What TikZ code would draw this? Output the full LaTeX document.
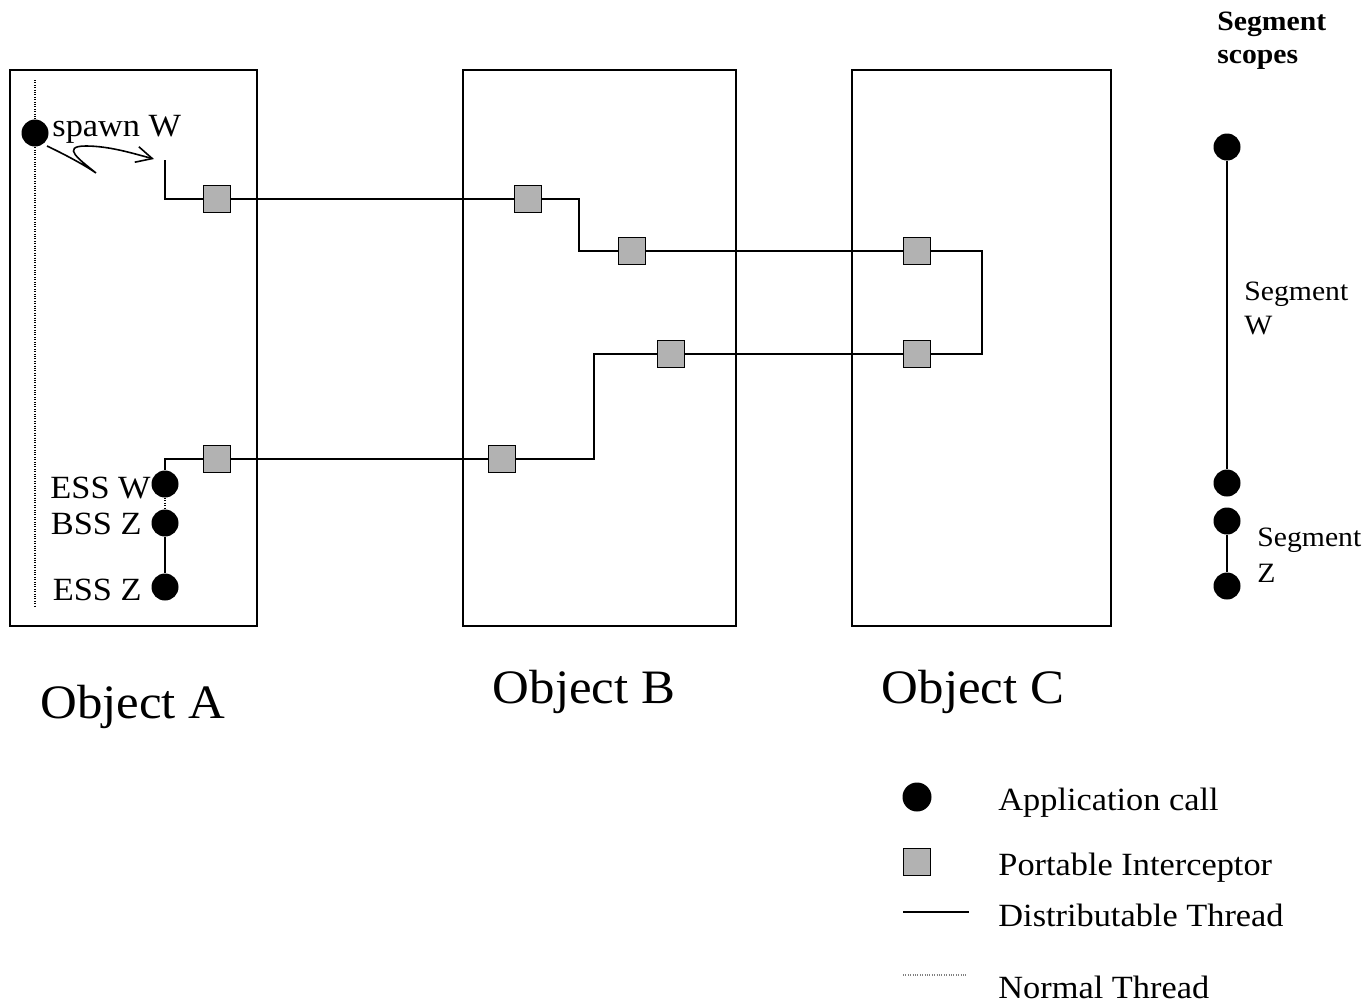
\documentclass[tikz,border=0pt]{standalone}
\usepackage{fontspec}
\setmainfont{Liberation Serif}
\usepackage{graphicx}
\usetikzlibrary{arrows.meta}
\newcommand\hs[1]{\scalebox{1.06}[1]{#1}}
\begin{document}
\begin{tikzpicture}[x=0.5pt,y=-0.5pt,
  objbox/.style={draw,line width=1pt,inner sep=0},
  app/.style={circle,fill=black,inner sep=0,minimum size=13.5pt},
  pint/.style={draw,fill=gray!60,line width=0.7pt,inner sep=0,minimum size=13.5pt},
  thr/.style={line width=0.75pt},
  nthr/.style={line width=0.6pt,dash pattern=on 0.5pt off 0.7pt},
  lbl/.style={inner sep=0,font=\fontsize{16.2pt}{19pt}\selectfont},
  big/.style={inner sep=0,font=\fontsize{24pt}{28pt}\selectfont},
  small/.style={inner sep=0,font=\fontsize{14pt}{16pt}\selectfont},
]
\useasboundingbox (0,0) rectangle (1369,1002);

% object boxes
\node[objbox,minimum width=123.5pt,minimum height=278pt] (boxA) at (133.5,348) {};
\node[objbox,minimum width=136.5pt,minimum height=278pt] (boxB) at (599.5,348) {};
\node[objbox,minimum width=129.5pt,minimum height=278pt] (boxC) at (981.5,348) {};

% normal thread in A
\coordinate (nt1) at (35,80);
\coordinate (nt2) at (35,607);
\draw[nthr] (nt1) -- (nt2);

% spawn
\node[app] (spawn) at (35,133) {};
\node[lbl,anchor=base west] (spawnlbl) at (52,136) {\hs{spawn W}};
\coordinate (sq0) at (47,146);
\coordinate (sqtip) at (154,159);
\draw[line width=0.8pt,-{Straight Barb[length=8pt,width=8pt]}]
  (sq0) .. controls (68,156) and (86,166) .. (96,173)
        .. controls (80,160) and (60,146) .. (86,146)
        .. controls (110,146) and (135,154) .. (sqtip);

% interceptors
\node[pint] (a1) at (217,199) {};
\node[pint] (b1) at (528,199) {};
\node[pint] (b2) at (632,251) {};
\node[pint] (c1) at (917,251) {};
\node[pint] (c2) at (917,354) {};
\node[pint] (b3) at (671,354) {};
\node[pint] (b4) at (502,459) {};
\node[pint] (a2) at (217,459) {};

% application calls in A
\node[app] (essw) at (165,484) {};
\node[app] (bssz) at (165,523) {};
\node[app] (essz) at (165,587) {};
\node[lbl,anchor=base east] (esswl) at (151,498) {\hs{ESS W}};
\node[lbl,anchor=base east] (bsszl) at (142,534) {\hs{BSS Z}};
\node[lbl,anchor=base east] (esszl) at (142,600) {\hs{ESS Z}};

% distributable thread
\coordinate (st) at (165,160);
\coordinate (t1) at (579,251);
\coordinate (t2) at (982,354);
\coordinate (t3) at (594,459);
\draw[thr] (st) |- (a1);
\draw[thr] (a1) -- (b1);
\draw[thr] (b1) -| (t1) -- (b2);
\draw[thr] (b2) -- (c1);
\draw[thr] (c1) -| (t2) -- (c2);
\draw[thr] (c2) -- (b3);
\draw[thr] (b3) -| (t3) -- (b4);
\draw[thr] (b4) -- (a2);
\draw[thr] (a2) -| (essw);
\draw[nthr] (essw) -- (bssz);
\draw[thr] (bssz) -- (essz);

% object labels
\node[big,anchor=base] (labA) at (133,718) {\hs{Object A}};
\node[big,anchor=base] (labB) at (584,703) {\hs{Object B}};
\node[big,anchor=base] (labC) at (973,703) {\hs{Object C}};

% segment scopes
\node[small,anchor=base west,font=\fontsize{14pt}{16pt}\selectfont\bfseries] (ss1) at (1217,30) {\hs{Segment}};
\node[small,anchor=base west,font=\fontsize{14pt}{16pt}\selectfont\bfseries] (ss2) at (1217,63) {\hs{scopes}};
\node[app] (r1) at (1227,147) {};
\node[app] (r2) at (1227,483) {};
\node[app] (r3) at (1227,521) {};
\node[app] (r4) at (1227,586) {};
\draw[line width=1pt] (r1) -- (r2);
\draw[line width=1pt] (r3) -- (r4);
\node[small,anchor=base west] (sw1) at (1244,300) {\hs{Segment}};
\node[small,anchor=base west] (sw2) at (1244,334) {\hs{W}};
\node[small,anchor=base west] (sz1) at (1257,546) {\hs{Segment}};
\node[small,anchor=base west] (sz2) at (1257,582) {\hs{Z}};

% legend
\node[app,minimum size=14.5pt] (lcirc) at (917,797) {};
\node[pint] (lsq) at (917,862) {};
\coordinate (ld1) at (903,912);
\coordinate (ld2) at (969,912);
\draw[thr] (ld1) -- (ld2);
\coordinate (ln1) at (903,975);
\coordinate (ln2) at (967,975);
\draw[nthr,gray] (ln1) -- (ln2);
\node[lbl,anchor=base west] (lt1) at (998,810) {\hs{Application call}};
\node[lbl,anchor=base west] (lt2) at (998,875) {\hs{Portable Interceptor}};
\node[lbl,anchor=base west] (lt3) at (998,926) {\hs{Distributable Thread}};
\node[lbl,anchor=base west] (lt4) at (998,998) {\hs{Normal Thread}};
\end{tikzpicture}
\end{document}
